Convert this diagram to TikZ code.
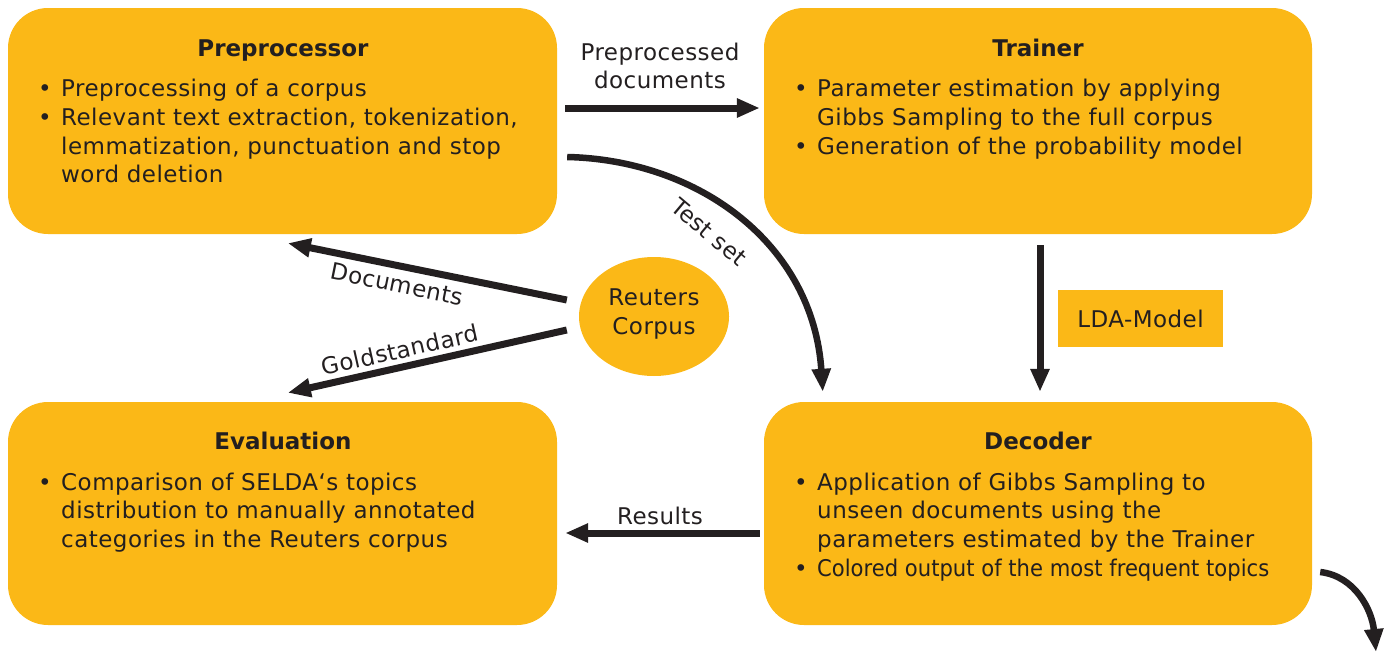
\documentclass[tikz,border=0pt]{standalone}
\usepackage{fontspec}
\setmainfont{DejaVu Sans}[LetterSpace=2.0]
\newfontfamily\tfont{DejaVu Sans}
\usepackage{graphicx}
\usetikzlibrary{arrows.meta,shapes.geometric,calc}
\definecolor{boxfill}{HTML}{FBB817}
\definecolor{ink}{HTML}{231F20}
\tikzset{
  box/.style={fill=boxfill,draw=none,rounded corners=40pt,inner sep=0pt},
  ttl/.style={anchor=base,inner sep=0pt,font=\fontsize{23}{28.7}\selectfont\tfont\bfseries,text=ink},
  body/.style={anchor=base west,inner sep=0pt,font=\fontsize{23}{28.7}\selectfont,text=ink},
  lbl/.style={inner sep=0pt,font=\fontsize{23}{28.7}\selectfont,text=ink,align=center},
  conn/.style={draw=ink,line width=7pt,-{Triangle[length=23pt,width=18pt]}},
}
\newcommand{\bl}{\textbullet}
\begin{document}
\begin{tikzpicture}[x=1pt,y=-1pt]
\useasboundingbox (0,0) rectangle (1392,653);
% boxes
\node[box,minimum width=549pt,minimum height=226pt] (pre) at (282.5,121) {};
\node[box,minimum width=548pt,minimum height=226pt] (tra) at (1038,121) {};
\node[box,minimum width=549pt,minimum height=223pt] (eva) at (282.5,513.5) {};
\node[box,minimum width=548pt,minimum height=223pt] (dec) at (1038,513.5) {};
\node[ellipse,fill=boxfill,minimum width=150pt,minimum height=119pt,inner sep=0pt] (rc) at (654,316.5) {};
\node[fill=boxfill,minimum width=165pt,minimum height=57pt,inner sep=0pt] (lda) at (1140.5,318.5) {};
% titles
\node[ttl] (preT) at (283,56) {Preprocessor};
\node[ttl] (traT) at (1038,56) {Trainer};
\node[ttl] (evaT) at (283,449) {Evaluation};
\node[ttl] (decT) at (1038,449) {Decoder};
% bodies
\node[body] (preB) at (38,96.7) {\begin{tabular}[t]{@{}p{23pt}@{}l@{}}
\bl&Preprocessing of a corpus\\
\bl&Relevant text extraction, tokenization,\\
&lemmatization, punctuation and stop\\
&word deletion
\end{tabular}};
\node[body] (traB) at (794,96.7) {\begin{tabular}[t]{@{}p{23pt}@{}l@{}}
\bl&Parameter estimation by applying\\
&Gibbs Sampling to the full corpus\\
\bl&Generation of the probability model
\end{tabular}};
\node[body] (evaB) at (38,490) {\begin{tabular}[t]{@{}p{23pt}@{}l@{}}
\bl&Comparison of SELDA`s topics\\
&distribution to manually annotated\\
&categories in the Reuters corpus
\end{tabular}};
\node[body] (decB) at (794,490) {\begin{tabular}[t]{@{}p{23pt}@{}l@{}}
\bl&Application of Gibbs Sampling to\\
&unseen documents using the\\
&parameters estimated by the Trainer\\
\bl&\resizebox{452pt}{\height}{\tfont Colored output of the most frequent topics}
\end{tabular}};
% ellipse and lda labels
\node[lbl] (rcT) at (654,314) {Reuters\\Corpus};
\node[lbl] (ldaT) at (1140.5,318.5) {LDA-Model};
% connectors
\draw[conn] ($(pre.east)+(8,-13)$) -- ($(tra.west)+(-4,-13)$);
\node[lbl] (ppd) at (660,66) {Preprocessed\\documents};
\draw[conn,line width=6.5pt] ($(pre.east)+(10,36)$) .. controls (700,160) and (813,245) .. ($(dec.north west)+(59,-10)$);
\node[lbl,rotate=-40] (tst) at (709,232) {Test set};
\draw[conn] ($(rc.west)+(-12,-16.5)$) -- ($(pre.south west)+(280,9)$);
\node[lbl,rotate=-11.5] (docs) at (397,284) {Documents};
\draw[conn] ($(rc.west)+(-12,13.5)$) -- ($(eva.north west)+(280,-9)$);
\node[lbl,rotate=12.7] (gold) at (400,350) {Goldstandard};
\draw[conn] ($(tra.south)+(2,11)$) -- ($(dec.north)+(2,-10)$);
\draw[conn] ($(dec.west)+(-4,19.5)$) -- ($(eva.east)+(8,19.5)$);
\node[lbl] (res) at (660,516) {Results};
\coordinate (out) at (1376,652);
\draw[conn,line width=6.5pt] ($(dec.east)+(8,58.5)$) .. controls (1355,576) and (1372,610) .. (out);
\end{tikzpicture}
\end{document}
